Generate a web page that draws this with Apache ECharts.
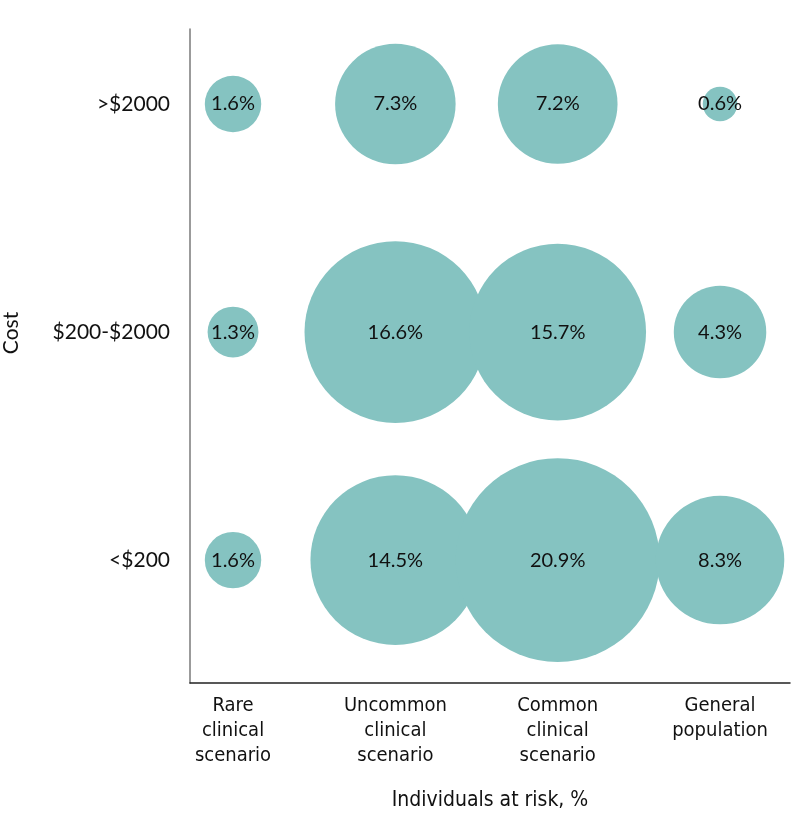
<!DOCTYPE html>
<html>
<head>
<meta charset="utf-8">
<script src="https://cdn.jsdelivr.net/npm/echarts@6/dist/echarts.min.js"></script>
<style>html,body{margin:0;padding:0;background:#fff}#c{width:798px;height:829px}</style>
</head>
<body>
<div id="c"></div>
<script>
// Categories (x) and cost levels (y)
var scenarios = ['Rare\nclinical\nscenario', 'Uncommon\nclinical\nscenario', 'Common\nclinical\nscenario', 'General\npopulation'];
var costLevels = ['<$200', '$200-$2000', '>$2000'];
// Percent of individuals at risk, per cost level, in scenario order
var costUnder200 = [1.6, 14.5, 20.9, 8.3];
var cost200to2000 = [1.3, 16.6, 15.7, 4.3];
var costOver2000 = [1.6, 7.3, 7.2, 0.6];

var rows = [costUnder200, cost200to2000, costOver2000];
var data = [];
rows.forEach(function (row, yi) {
  row.forEach(function (v, xi) { data.push([xi, yi, v]); });
});

var chart = echarts.init(document.getElementById('c'), null, {renderer: 'canvas'});
chart.setOption({
  animation: false,
  grid: {left: 190, right: 8, top: 29, bottom: 146, containLabel: false, outerBoundsMode: 'none'},
  xAxis: {
    type: 'value', min: -0.265, max: 3.431,
    name: 'Individuals at risk, %', nameLocation: 'middle', nameGap: 107,
    nameTextStyle: {fontSize: 21, color: '#111', fontFamily: 'Liberation Sans Narrow, DejaVu Sans Condensed, sans-serif'},
    axisLine: {show: true, onZero: false, lineStyle: {color: '#222', width: 1.5}},
    axisTick: {show: false},
    splitLine: {show: false},
    axisLabel: {
      customValues: [0, 1, 2, 3],
      formatter: function (v) { return scenarios[Math.round(v)]; },
      fontSize: 20, lineHeight: 25, color: '#111', margin: 10,
      fontFamily: 'Liberation Sans Narrow, DejaVu Sans Condensed, sans-serif'
    }
  },
  yAxis: {
    type: 'value', min: -0.539, max: 2.329,
    name: 'Cost', nameLocation: 'middle', nameGap: 168, nameRotate: 90,
    nameTextStyle: {fontSize: 21, color: '#111', fontFamily: 'Lato, sans-serif', padding: [0, 0, 0, 46]},
    axisLine: {show: true, onZero: false, lineStyle: {color: '#7a7a7a', width: 1.5}},
    axisTick: {show: false},
    splitLine: {show: false},
    axisLabel: {
      customValues: [0, 1, 2],
      formatter: function (v) { return costLevels[Math.round(v)]; },
      fontSize: 21, color: '#111', margin: 20,
      fontFamily: 'Lato, sans-serif'
    }
  },
  series: [{
    type: 'scatter',
    data: data,
    symbolSize: function (d) { return 44.6 * Math.sqrt(d[2]); },
    itemStyle: {color: '#85c3c1', opacity: 1},
    label: {
      show: true, position: 'inside',
      formatter: function (p) { return p.value[2].toFixed(1) + '%'; },
      fontSize: 20, color: '#111', fontFamily: 'Lato, sans-serif'
    },
    emphasis: {disabled: true}
  }]
});
</script>
</body>
</html>
